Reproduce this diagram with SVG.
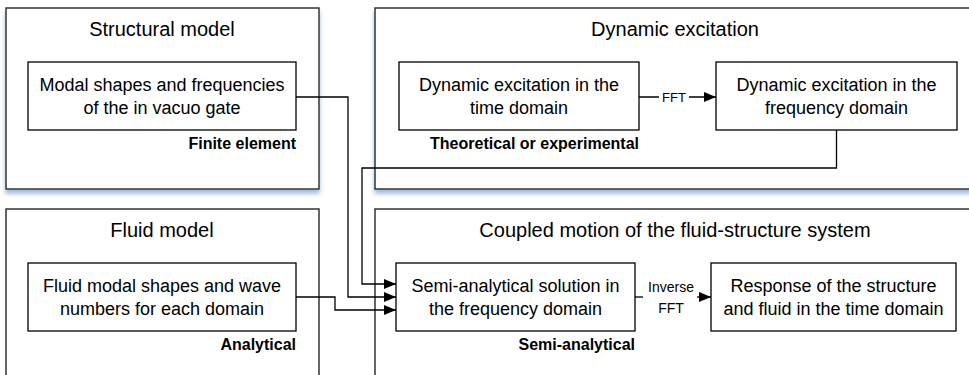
<svg xmlns="http://www.w3.org/2000/svg" width="969" height="375" viewBox="0 0 969 375">
  <defs>
    <filter id="shadow" x="-5%" y="-5%" width="110%" height="115%">
      <feDropShadow dx="0" dy="4" stdDeviation="2" flood-color="#4f81bd" flood-opacity="0.55"/>
    </filter>
    <marker id="arrow" viewBox="0 0 12 10" refX="12" refY="5" markerWidth="12" markerHeight="10" markerUnits="userSpaceOnUse" orient="auto">
      <path d="M0,0 L12,5 L0,10 Z" fill="#000"/>
    </marker>
  </defs>
  <style>
    .outer { fill: #fff; stroke: #262626; stroke-width: 1.4; }
    .inner { fill: #fff; stroke: #000; stroke-width: 1.3; }
    .title { font-family: "Liberation Sans", Arial, sans-serif; font-size: 20px; fill: #000; text-anchor: middle; }
    .txt { font-family: "Liberation Sans", Arial, sans-serif; font-size: 18px; fill: #000; text-anchor: middle; }
    .bold { font-family: "Liberation Sans", Arial, sans-serif; font-size: 16px; font-weight: bold; fill: #000; text-anchor: end; }
    .lbl { font-family: "Liberation Sans", Arial, sans-serif; font-size: 13px; fill: #000; text-anchor: middle; }
    .lbl2 { font-family: "Liberation Sans", Arial, sans-serif; font-size: 14px; fill: #000; text-anchor: middle; }
    .conn { fill: none; stroke: #000; stroke-width: 1.3; }
  </style>
  <rect width="969" height="375" fill="#fff"/>

  <!-- Outer containers -->
  <g id="structural-model">
    <rect class="outer" x="6" y="8" width="313" height="181" filter="url(#shadow)"/>
    <text class="title" x="162" y="36">Structural model</text>
  </g>
  <g id="dynamic-excitation">
    <rect class="outer" x="375" y="8" width="620" height="181" filter="url(#shadow)"/>
    <text class="title" x="675" y="36">Dynamic excitation</text>
  </g>
  <g id="fluid-model">
    <rect class="outer" x="6" y="209" width="313" height="200"/>
    <text class="title" x="162" y="237">Fluid model</text>
  </g>
  <g id="coupled-motion">
    <rect class="outer" x="375" y="209" width="620" height="200"/>
    <text class="title" x="675" y="237">Coupled motion of the fluid-structure system</text>
  </g>

  <!-- Connectors -->
  <g id="connectors">
    <polyline class="conn" points="836.5,130 836.5,168 362,168 362,284 396,284" marker-end="url(#arrow)"/>
    <polyline class="conn" points="296,97 348,97 348,297 396,297" marker-end="url(#arrow)"/>
    <polyline class="conn" points="296,297 335,297 335,310 396,310" marker-end="url(#arrow)"/>
    <line class="conn" x1="639" y1="97" x2="716" y2="97" marker-end="url(#arrow)"/>
    <rect x="659" y="88" width="30" height="16" fill="#fff"/>
    <text class="lbl" x="674" y="102">FFT</text>
    <line class="conn" x1="635" y1="297" x2="643" y2="297"/>
    <line class="conn" x1="697" y1="297" x2="711" y2="297" marker-end="url(#arrow)"/>
    <text class="lbl2" x="671" y="292">Inverse</text>
    <text class="lbl2" x="671" y="313">FFT</text>
  </g>

  <!-- Inner nodes -->
  <g id="modal-shapes">
    <rect class="inner" x="28" y="62" width="268" height="68"/>
    <text class="txt" x="162" y="91">Modal shapes and frequencies</text>
    <text class="txt" x="162" y="114">of the in vacuo gate</text>
    <text class="bold" x="296" y="149">Finite element</text>
  </g>
  <g id="excitation-time">
    <rect class="inner" x="399" y="62" width="240" height="68"/>
    <text class="txt" x="519" y="91">Dynamic excitation in the</text>
    <text class="txt" x="519" y="114">time domain</text>
    <text class="bold" x="639" y="149">Theoretical or experimental</text>
  </g>
  <g id="excitation-frequency">
    <rect class="inner" x="716" y="62" width="241" height="68"/>
    <text class="txt" x="836.5" y="91">Dynamic excitation in the</text>
    <text class="txt" x="836.5" y="114">frequency domain</text>
  </g>
  <g id="fluid-modal">
    <rect class="inner" x="28" y="263" width="268" height="68"/>
    <text class="txt" x="162" y="292">Fluid modal shapes and wave</text>
    <text class="txt" x="162" y="315">numbers for each domain</text>
    <text class="bold" x="296" y="350">Analytical</text>
  </g>
  <g id="semi-analytical">
    <rect class="inner" x="396" y="263" width="239" height="68"/>
    <text class="txt" x="515.5" y="292">Semi-analytical solution in</text>
    <text class="txt" x="515.5" y="315">the frequency domain</text>
    <text class="bold" x="635" y="350">Semi-analytical</text>
  </g>
  <g id="response">
    <rect class="inner" x="711" y="263" width="245" height="68"/>
    <text class="txt" x="833.5" y="292">Response of the structure</text>
    <text class="txt" x="833.5" y="315">and fluid in the time domain</text>
  </g>
</svg>
